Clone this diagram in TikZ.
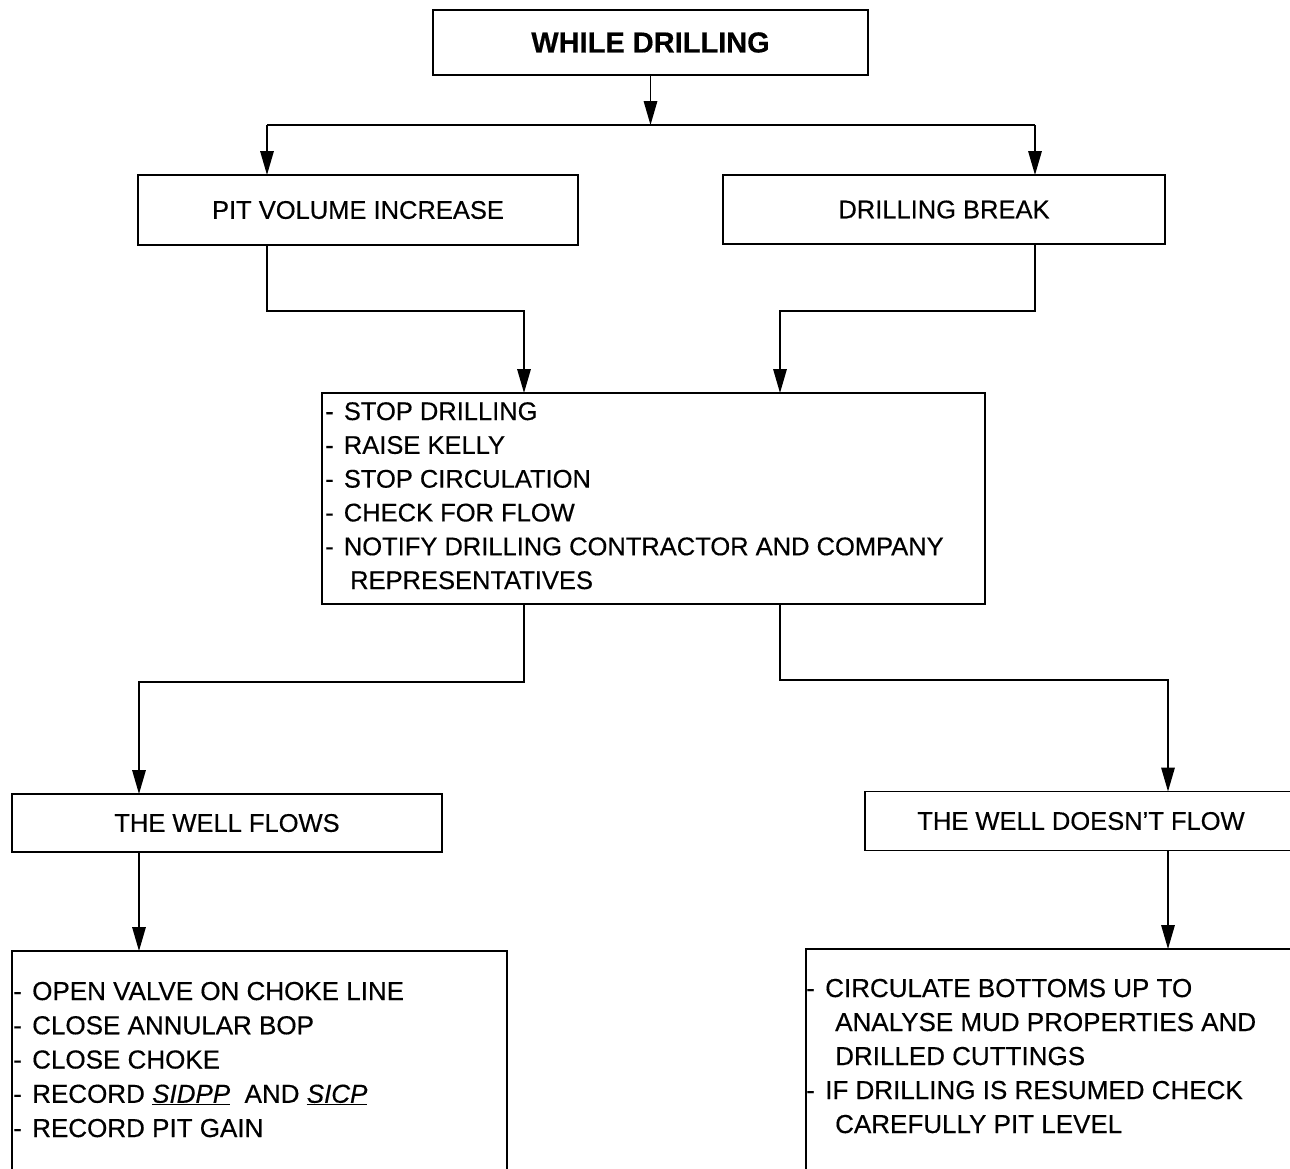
\documentclass[tikz,border=0pt]{standalone}
\usepackage{fontspec}
\setmainfont[FakeBold=0.4]{Liberation Sans}
\usetikzlibrary{arrows.meta}
% bullet dash used at the start of each list line
\newcommand\dsh{-\hspace{0.4em}}
\begin{document}
\begin{tikzpicture}[x=1pt,y=-1pt,
  box/.style={draw=black, line width=1.5pt, rectangle, inner sep=0pt, outer sep=0pt,
              font=\fontsize{25.5}{30}\selectfont},
  ln/.style={line width=1.6pt, draw=black},
  arr/.style={ln, -{Triangle[length=24pt,width=13.5pt]}},
  item/.style={anchor=base west, inner sep=0pt, font=\fontsize{25.5}{30}\selectfont},
  itemb/.style={item, font=\fontsize{26}{30}\selectfont}]
\useasboundingbox (0,0) rectangle (1290,1168);
\fill[white] (0,0) rectangle (1290,1168);
\clip (0,0) rectangle (1290,1168);

% boxes
\node[box, minimum width=435pt, minimum height=65pt,
      font=\fontsize{29}{34}\selectfont\bfseries] (wd) at (650.5,42.5) {WHILE DRILLING};
\node[box, minimum width=440pt, minimum height=70pt] (piv) at (358,210) {PIT VOLUME INCREASE};
\node[box, minimum width=442pt, minimum height=69pt] (db) at (944,209.5) {DRILLING BREAK};
\node[box, minimum width=663pt, minimum height=211pt] (act) at (653.5,498.5) {};
\node[box, minimum width=430pt, minimum height=58pt] (wf) at (227,823) {THE WELL FLOWS};
\node[box, minimum width=432pt, minimum height=59pt] (wnf) at (1081,821) {THE WELL DOESN'T FLOW};
\node[box, minimum width=495pt, minimum height=249pt] (ofl) at (259.5,1075.5) {};
\node[box, minimum width=494pt, minimum height=251pt] (nfl) at (1053,1074.5) {};

% list of first actions
\foreach \t [count=\i from 0] in {{\dsh STOP DRILLING},{\dsh RAISE KELLY},
    {\dsh STOP CIRCULATION},{\dsh CHECK FOR FLOW},
    {\dsh NOTIFY DRILLING CONTRACTOR AND COMPANY},{\hspace*{25pt}REPRESENTATIVES}}
  \node[item] (act-\i) at (325,420+33.8*\i) {\t};

% actions when the well flows
\foreach \t [count=\i from 0] in {{\dsh OPEN VALVE ON CHOKE LINE},{\dsh CLOSE ANNULAR BOP},
    {\dsh CLOSE CHOKE},{\dsh RECORD \underline{\textit{SIDPP}}\ \ AND \underline{\textit{SICP}}},
    {\dsh RECORD PIT GAIN}}
  \node[itemb] (ofl-\i) at (13,1000+34.25*\i) {\t};

% actions when the well does not flow
\foreach \t [count=\i from 0] in {{\dsh CIRCULATE BOTTOMS UP TO},
    {\hspace*{29pt}ANALYSE MUD PROPERTIES AND},{\hspace*{29pt}DRILLED CUTTINGS},
    {\dsh IF DRILLING IS RESUMED CHECK},{\hspace*{29pt}CAREFULLY PIT LEVEL}}
  \node[itemb] (nfl-\i) at (806,997+34*\i) {\t};

% junction points of the connectors
\coordinate (tl) at (267,125);
\coordinate (tr) at (1035,125);
\coordinate (ml) at (524,311);
\coordinate (mr) at (780,311);
\coordinate (bl) at (139,682);
\coordinate (br) at (1168,680);

% connectors
\draw[arr] (wd.south) -- (wd.south |- tl);
\draw[ln] (tl) -- (tr);
\draw[arr] (tl) -- (tl |- piv.north);
\draw[arr] (tr) -- (tr |- db.north);
\draw[arr] (tl |- piv.south) |- (ml) -- (ml |- act.north);
\draw[arr] (tr |- db.south) |- (mr) -- (mr |- act.north);
\draw[arr] (ml |- act.south) |- (bl) -- (bl |- wf.north);
\draw[arr] (mr |- act.south) |- (br) -- (br |- wnf.north);
\draw[arr] (bl |- wf.south) -- (bl |- ofl.north);
\draw[arr] (br |- wnf.south) -- (br |- nfl.north);
\end{tikzpicture}
\end{document}
